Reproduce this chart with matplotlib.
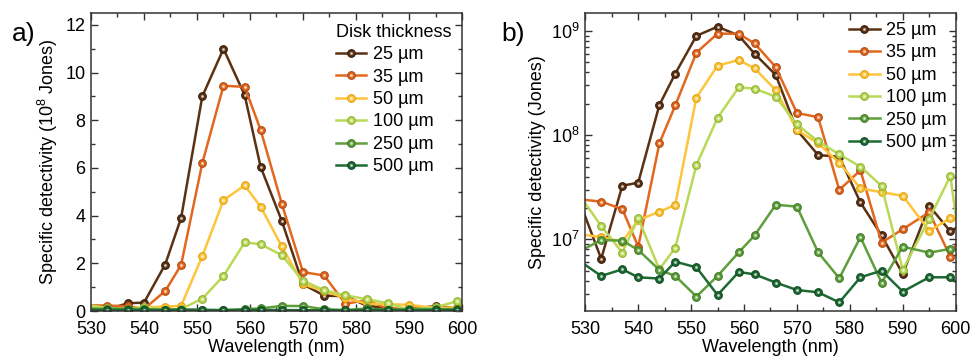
import numpy as np
import matplotlib.pyplot as plt
from matplotlib.ticker import MultipleLocator, LogLocator, NullFormatter

plt.rcParams['font.family'] = ['Liberation Sans', 'DejaVu Sans']
plt.rcParams['mathtext.fontset'] = 'custom'
plt.rcParams['mathtext.rm'] = 'Liberation Sans'
plt.rcParams['mathtext.it'] = 'Liberation Sans'

# wavelength (nm); first/last points lie just outside the 530-600 window
wavelength = [529, 533, 537, 540, 544, 547, 551, 555, 559, 562, 566,
              570, 574, 578, 582, 586, 590, 595, 599, 603]

# specific detectivity (Jones)
d_25 = [2.25e7, 6.5e6, 3.27e7, 3.5e7, 1.95e8, 3.9e8, 9.0e8, 1.1e9, 9.05e8, 6.05e8, 3.78e8,
        1.12e8, 6.45e7, 6.2e7, 2.26e7, 1.09e7, 4.65e6, 2.1e7, 1.19e7, 1.59e7]
d_35 = [2.42e7, 2.3e7, 1.95e7, 8.5e6, 8.35e7, 1.93e8, 6.2e8, 9.45e8, 9.4e8, 7.6e8, 4.5e8,
        1.63e8, 1.49e8, 2.98e7, 4.6e7, 9.3e6, 1.25e7, 1.82e7, 6.8e6, 1.92e7]
d_50 = [1.12e7, 1.05e7, 9.5e6, 1.53e7, 1.84e7, 2.14e7, 2.3e8, 4.65e8, 5.27e8, 4.38e8, 2.71e8,
        1.12e8, 8.35e7, 5.45e7, 3.09e7, 2.83e7, 2.62e7, 1.21e7, 1.59e7, 1.32e7]
d_100 = [2.62e7, 1.34e7, 7.45e6, 1.59e7, 5.15e6, 8.3e6, 5.17e7, 1.47e8, 2.88e8, 2.8e8, 2.34e8,
         1.27e8, 8.7e7, 6.55e7, 4.99e7, 3.25e7, 5.1e6, 1.57e7, 4.05e7, 1.37e6]
d_250 = [7.7e6, 9.85e6, 9.7e6, 7.9e6, 5.08e6, 4.45e6, 2.82e6, 4.45e6, 7.5e6, 1.09e7, 2.15e7,
         2.06e7, 7.5e6, 4.23e6, 1.05e7, 3.84e6, 8.5e6, 7.45e6, 8.1e6, 7.2e6]
d_500 = [6.15e6, 4.45e6, 5.15e6, 4.32e6, 4.2e6, 6.1e6, 5.38e6, 2.92e6, 4.86e6, 4.61e6, 3.84e6,
         3.26e6, 3.1e6, 2.48e6, 4.32e6, 5.0e6, 3.15e6, 4.32e6, 4.32e6, 2.95e6]

labels = ["25 µm", "35 µm", "50 µm", "100 µm", "250 µm", "500 µm"]
series = [d_25, d_35, d_50, d_100, d_250, d_500]
colors = ["#5b3113", "#e2671f", "#fec43a", "#b9d957", "#5e9e3b", "#1d6a33"]
edges = ["#3a1d08", "#b04a10", "#e0a010", "#8fb030", "#3f7a25", "#0e4a20"]

fig = plt.figure(figsize=(9.71, 3.56), dpi=100)
ax_a = fig.add_axes([0.0937, 0.1264, 0.3821, 0.8371])
ax_b = fig.add_axes([0.6028, 0.1264, 0.3814, 0.8371])


def draw(ax, scale):
    handles = []
    for y, c, ec in zip(series, colors, edges):
        y = np.array(y) / scale
        ln, = ax.plot(wavelength, y, color=c, lw=1.8, marker="o", ms=5.5,
                      mfc=c, mec=ec, mew=0.8)
        hl, = ax.plot(wavelength, y, ls="none", marker="o", ms=2,
                      mfc="white", mec="none", alpha=0.75)
        handles.append((ln, hl))
    return handles


def style(ax):
    ax.set_xlim(530, 600)
    ax.xaxis.set_major_locator(MultipleLocator(10))
    ax.xaxis.set_minor_locator(MultipleLocator(5))
    ax.tick_params(which="both", direction="in", top=True, right=True,
                   labelsize=13, width=1, color="#333333", pad=4)
    ax.tick_params(axis="x", which="both", pad=7.5)
    ax.tick_params(which="major", length=5)
    ax.tick_params(which="minor", length=3)
    for s in ax.spines.values():
        s.set_linewidth(1.1)
        s.set_color("#333333")
    ax.set_xlabel("Wavelength (nm)", fontsize=13, labelpad=0.5)


# panel a, linear in 10^8 Jones
h = draw(ax_a, 1e8)
style(ax_a)
ax_a.set_ylim(0, 12.5)
ax_a.yaxis.set_major_locator(MultipleLocator(2))
ax_a.yaxis.set_minor_locator(MultipleLocator(1))
ax_a.set_ylabel("Specific detectivity (10$^{8}$ Jones)", fontsize=13, labelpad=4)
ax_a.legend(h, labels, title="Disk thickness", loc="upper right", frameon=False,
            fontsize=13, title_fontsize=13, handlelength=1.7, handletextpad=0.35,
            labelspacing=0.3, borderaxespad=0.2, alignment="left",
            bbox_to_anchor=(1.0, 1.0))
fig.text(0.012, 0.905, "a)", fontsize=19, ha="left", va="center")

# panel b, log scale
h = draw(ax_b, 1.0)
style(ax_b)
ax_b.set_yscale("log")
ax_b.set_ylim(2.05e6, 1.49e9)
ax_b.yaxis.set_major_locator(LogLocator(base=10))
ax_b.yaxis.set_minor_locator(LogLocator(base=10, subs=np.arange(2, 10)))
ax_b.yaxis.set_minor_formatter(NullFormatter())
ax_b.set_ylabel("Specific detectivity (Jones)", fontsize=13, labelpad=4)
ax_b.legend(h, labels, loc="upper right", frameon=False, fontsize=13,
            handlelength=1.7, handletextpad=0.35, labelspacing=0.3,
            borderaxespad=0.1, bbox_to_anchor=(1.0, 1.0))
fig.text(0.516, 0.905, "b)", fontsize=19, ha="left", va="center")

fig.savefig("out.png", dpi=100)
